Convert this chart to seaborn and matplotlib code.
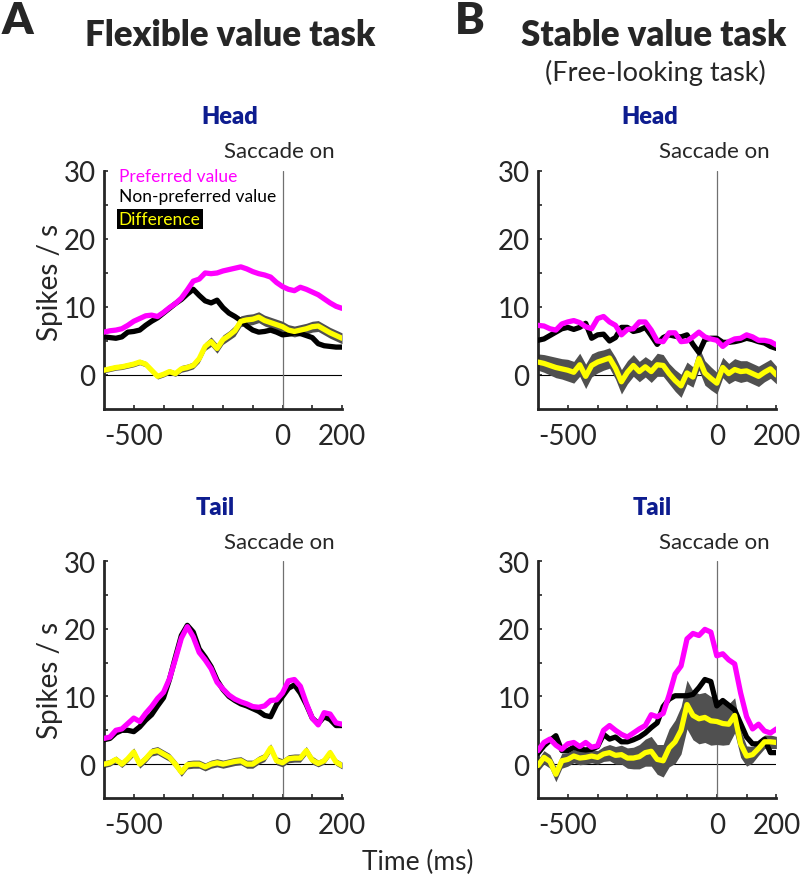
import numpy as np
import pandas as pd
import seaborn as sns
import matplotlib
matplotlib.use("Agg")
import matplotlib.pyplot as plt
import matplotlib.transforms as mtransforms

# time axis (ms from saccade onset), one sample every 20 ms
time_ms = list(range(-600, 201, 20))

# ---- Flexible value task, head ----
flex_head_pref = [6.3, 6.5, 6.6, 6.8, 7.3, 7.9, 8.3, 8.7, 8.8, 8.6, 9.2, 9.9, 10.5, 11.3, 12.5, 13.8,
                  14.1, 15.0, 14.9, 15.0, 15.3, 15.5, 15.7, 15.9, 15.6, 15.2, 14.9, 14.7, 14.4, 13.6,
                  13.0, 12.6, 12.4, 12.9, 12.6, 12.2, 11.8, 11.2, 10.6, 10.1, 9.8]
flex_head_nonpref = [5.6, 5.5, 5.4, 5.6, 6.3, 6.4, 6.6, 7.3, 7.9, 8.4, 9.1, 9.8, 10.5, 11.1, 11.9, 12.6,
                     11.7, 10.9, 10.6, 11.0, 9.9, 9.1, 8.6, 8.0, 7.2, 6.6, 6.3, 6.4, 6.6, 6.3,
                     5.9, 6.0, 6.2, 6.1, 5.8, 5.5, 4.6, 4.3, 4.2, 4.1, 4.1]
flex_head_diff = [0.7, 0.9, 1.1, 1.2, 1.4, 1.6, 1.9, 1.6, 0.7, -0.2, 0.1, 0.5, 0.2, 0.9, 1.1, 1.4,
                  2.4, 4.2, 4.9, 3.9, 5.2, 5.8, 6.5, 7.9, 8.1, 8.2, 8.5, 8.0, 7.7, 7.4,
                  7.1, 6.6, 6.4, 6.6, 6.8, 7.1, 7.2, 6.7, 6.2, 5.8, 5.4]
flex_head_sem = [0.4, 0.4, 0.4, 0.4, 0.4, 0.4, 0.4, 0.4, 0.4, 0.4, 0.4, 0.4, 0.4, 0.5, 0.5, 0.5,
                 0.6, 0.6, 0.7, 0.7, 0.7, 0.7, 0.8, 0.8, 0.8, 0.8, 0.8, 0.8, 0.8, 0.8,
                 0.8, 0.8, 0.8, 0.8, 0.8, 0.8, 0.8, 0.8, 0.8, 0.8, 0.8]

# ---- Flexible value task, tail ----
flex_tail_pref = [3.8, 4.0, 5.0, 5.2, 6.0, 6.8, 6.3, 7.5, 8.5, 9.7, 10.6, 12.6, 15.5, 18.6, 20.3, 18.8,
                  16.5, 15.4, 14.1, 12.1, 11.1, 10.2, 9.6, 9.2, 8.9, 8.5, 8.4, 8.6, 9.4, 9.5,
                  10.5, 12.3, 12.5, 11.5, 9.0, 6.8, 5.8, 7.6, 7.4, 6.1, 5.9]
flex_tail_nonpref = [3.6, 3.8, 4.6, 5.0, 5.0, 4.8, 5.5, 6.5, 7.3, 8.6, 9.8, 12.5, 15.8, 19.0, 20.5, 19.5,
                     17.0, 15.8, 14.4, 12.4, 11.0, 10.0, 9.4, 8.9, 8.6, 8.2, 7.8, 7.2, 7.0, 8.8,
                     10.0, 11.2, 11.7, 10.5, 8.8, 6.8, 6.0, 7.0, 6.6, 5.7, 5.7]
flex_tail_diff = [0.0, 0.2, 0.7, 0.0, 0.8, 1.8, 0.0, 0.8, 1.8, 2.0, 1.5, 1.0, 0.0, -1.2, -0.1, 0.0,
                  0.0, -0.4, 0.0, 0.2, 0.0, 0.2, 0.4, 0.5, 0.0, 0.0, 0.6, 1.0, 2.4, 0.5,
                  0.2, 0.8, 0.9, 0.9, 2.0, 0.6, 0.1, 0.5, 1.7, 0.3, -0.2]
flex_tail_sem = [0.5, 0.5, 0.5, 0.5, 0.5, 0.6, 0.6, 0.6, 0.6, 0.6, 0.6, 0.6, 0.6, 0.6, 0.6, 0.6,
                 0.6, 0.6, 0.6, 0.6, 0.6, 0.6, 0.6, 0.6, 0.6, 0.6, 0.6, 0.6, 0.6, 0.6,
                 0.6, 0.6, 0.6, 0.6, 0.6, 0.6, 0.5, 0.5, 0.5, 0.5, 0.5]

# ---- Stable value task, head ----
stab_head_pref = [7.3, 7.2, 6.8, 6.6, 7.5, 7.8, 8.0, 7.7, 7.1, 6.8, 8.3, 8.6, 7.8, 7.3, 5.9, 6.7,
                  6.8, 7.8, 7.8, 6.6, 5.0, 4.9, 6.2, 6.2, 4.9, 5.0, 5.6, 6.3, 5.6, 5.3,
                  5.1, 4.2, 4.9, 5.3, 5.4, 5.9, 5.6, 5.1, 5.1, 4.9, 4.4]
stab_head_nonpref = [5.1, 5.3, 5.8, 6.3, 6.8, 7.0, 6.7, 7.0, 7.6, 5.4, 5.9, 6.0, 5.0, 5.5, 7.0, 7.0,
                     6.4, 6.6, 7.0, 5.8, 4.5, 5.5, 5.9, 5.7, 5.6, 5.9, 4.5, 3.3, 5.2, 5.4,
                     5.4, 4.8, 4.8, 4.9, 5.1, 5.4, 5.2, 4.9, 4.7, 4.2, 3.9]
stab_head_diff = [1.9, 1.7, 1.4, 1.1, 0.9, 0.7, 0.4, 1.5, -0.2, 1.4, 1.9, 2.2, 2.5, 1.0, -1.0, 0.4,
                  1.4, 0.5, 1.2, 0.5, 1.5, 1.4, 0.2, -0.8, -1.6, 0.3, -0.3, 2.4, 0.3, -0.5,
                  -1.2, 1.1, 0.2, 0.8, 0.5, 0.6, 0.2, -0.2, 0.4, 0.9, 0.0]
stab_head_sem = [1.2, 1.3, 1.4, 1.5, 1.5, 1.6, 1.6, 1.7, 1.8, 1.7, 1.6, 1.5, 1.5, 1.6, 1.8, 1.7,
                 1.6, 1.5, 1.5, 1.6, 1.7, 1.6, 1.5, 1.6, 1.7, 1.6, 1.5, 1.7, 1.8, 1.7,
                 1.6, 1.5, 1.5, 1.6, 1.6, 1.5, 1.5, 1.5, 1.4, 1.4, 1.3]

# ---- Stable value task, tail ----
stab_tail_pref = [2.0, 3.2, 3.7, 2.8, 2.2, 3.0, 3.2, 2.6, 3.2, 2.5, 2.7, 5.0, 5.7, 5.0, 4.4, 4.0,
                  4.6, 5.2, 5.7, 7.3, 7.0, 7.5, 10.2, 13.3, 14.5, 18.5, 19.3, 19.0, 19.9, 19.5,
                  16.0, 16.3, 15.4, 14.8, 10.5, 7.0, 5.2, 5.9, 4.9, 4.6, 5.2]
stab_tail_nonpref = [1.6, 2.7, 3.5, 4.2, 2.0, 2.0, 2.5, 2.2, 2.1, 2.2, 2.6, 4.4, 3.7, 4.0, 3.3, 3.3,
                     3.6, 4.0, 4.6, 5.4, 6.1, 8.5, 9.6, 10.1, 10.1, 10.1, 10.3, 11.3, 12.5, 12.2,
                     8.6, 9.4, 8.7, 8.0, 6.0, 4.0, 3.0, 3.0, 3.7, 1.7, 1.7]
stab_tail_diff = [-0.2, 1.0, 0.4, -1.5, 0.5, 0.7, 1.2, 0.9, 1.0, 1.2, 1.0, 1.5, 1.7, 1.3, 1.4, 0.9,
                  0.9, 1.1, 1.7, 1.9, 0.7, 0.5, 2.4, 3.3, 5.0, 8.8, 7.2, 6.7, 6.9, 6.4,
                  6.3, 6.0, 5.9, 7.2, 3.0, 1.2, 1.4, 2.3, 3.3, 3.3, 3.2]
stab_tail_sem = [0.9, 1.0, 1.0, 1.1, 1.1, 1.0, 1.0, 1.0, 1.0, 1.0, 1.0, 1.1, 1.2, 1.3, 1.4, 1.5,
                 1.6, 1.8, 2.0, 2.2, 2.2, 2.4, 2.8, 3.2, 3.5, 3.6, 3.6, 3.7, 3.7, 3.6,
                 3.4, 3.2, 3.0, 2.6, 2.0, 1.5, 1.2, 1.0, 1.0, 1.0, 0.9]

x_ticks = [-500, -400, -300, -200, -100, 0, 100, 200]
x_ticklabels = ["-500", "", "", "", "", "0", "", "200"]
y_ticks = [0, 5, 10, 15, 20, 25, 30]
y_ticklabels = ["0", "", "10", "", "20", "", "30"]

PINK = "#ff00ff"
YELLOW = "#ffff00"
BAND = "#505050"
NAVY = "#0d1c8f"

sns.set_style("ticks")
plt.rcParams["font.family"] = ["Lato", "DejaVu Sans"]

W, H = 800, 887
fig = plt.figure(figsize=(W / 100, H / 100), dpi=100)


def draw_panel(rect, pref, nonpref, diff, sem, legend=False):
    ax = fig.add_axes(rect)
    df = pd.DataFrame({"t": time_ms, "pref": pref, "nonpref": nonpref, "diff": diff, "sem": sem})
    ax.axhline(0, color="black", lw=0.8, zorder=1)
    ax.axvline(0, color="#707070", lw=0.9, zorder=1)
    ax.fill_between(df["t"], df["diff"] - df["sem"], df["diff"] + df["sem"],
                    color=BAND, lw=0, zorder=2)
    sns.lineplot(data=df, x="t", y="nonpref", color="black", lw=3.8, ax=ax, zorder=3)
    sns.lineplot(data=df, x="t", y="pref", color=PINK, lw=3.8, ax=ax, zorder=4)
    sns.lineplot(data=df, x="t", y="diff", color=YELLOW, lw=3.8, ax=ax, zorder=5)

    ax.set_xlim(-600, 200)
    ax.set_ylim(-5, 30)
    ax.set_xticks(x_ticks)
    ax.set_xticklabels(x_ticklabels)
    ax.set_yticks(y_ticks)
    ax.set_yticklabels(y_ticklabels)
    ax.set_xlabel("")
    ax.set_ylabel("")
    ax.tick_params(direction="in", length=3, width=1.2, labelsize=20, pad=6)
    ax.tick_params(axis="x", pad=10)
    sns.despine(ax=ax)
    for s in ("left", "bottom"):
        ax.spines[s].set_linewidth(2.0)

    trans = mtransforms.blended_transform_factory(ax.transData, ax.transAxes)
    ax.text(-10, 1.04, "Saccade on", transform=trans, ha="center", va="bottom", fontsize=16)

    if legend:
        ax.text(-550, 29.2, "Preferred value", color=PINK, fontsize=12.5, va="center")
        ax.text(-550, 26.3, "Non-preferred value", color="black", fontsize=12.5, va="center")
        ax.text(-550, 22.9, "Difference", color=YELLOW, fontsize=12.5, va="center",
                bbox=dict(facecolor="black", edgecolor="none", pad=1.5))
    return ax


def fy(py):
    return 1 - py / H


draw_panel([0.13, 0.5378, 0.2975, 0.2683], flex_head_pref, flex_head_nonpref,
           flex_head_diff, flex_head_sem, legend=True)
draw_panel([0.6725, 0.5378, 0.298, 0.2683], stab_head_pref, stab_head_nonpref,
           stab_head_diff, stab_head_sem)
draw_panel([0.13, 0.0992, 0.2975, 0.2672], flex_tail_pref, flex_tail_nonpref,
           flex_tail_diff, flex_tail_sem)
draw_panel([0.6725, 0.0992, 0.298, 0.2672], stab_tail_pref, stab_tail_nonpref,
           stab_tail_diff, stab_tail_sem)

# panel letters and titles
fig.text(17 / W, fy(21), "A", fontsize=32, fontweight="heavy", ha="center", va="center")
fig.text(470 / W, fy(21), "B", fontsize=32, fontweight="heavy", ha="center", va="center")
fig.text(230 / W, fy(36), "Flexible value task", fontsize=25, fontweight="heavy",
         ha="center", va="center")
fig.text(654 / W, fy(36), "Stable value task", fontsize=25, fontweight="heavy",
         ha="center", va="center")
fig.text(655 / W, fy(73), "(Free-looking task)", fontsize=19.5, ha="center", va="center")

for x, y, s in [(230, 117, "Head"), (650, 117, "Head"), (215, 508, "Tail"), (652, 508, "Tail")]:
    fig.text(x / W, fy(y), s, fontsize=17, fontweight="heavy", color=NAVY, ha="center", va="center")

fig.text(50 / W, fy(282), "Spikes / s", fontsize=20, rotation=90, ha="center", va="center")
fig.text(50 / W, fy(680), "Spikes / s", fontsize=20, rotation=90, ha="center", va="center")
fig.text(418 / W, fy(862), "Time (ms)", fontsize=19, ha="center", va="center")

fig.savefig("out.png", dpi=100)
